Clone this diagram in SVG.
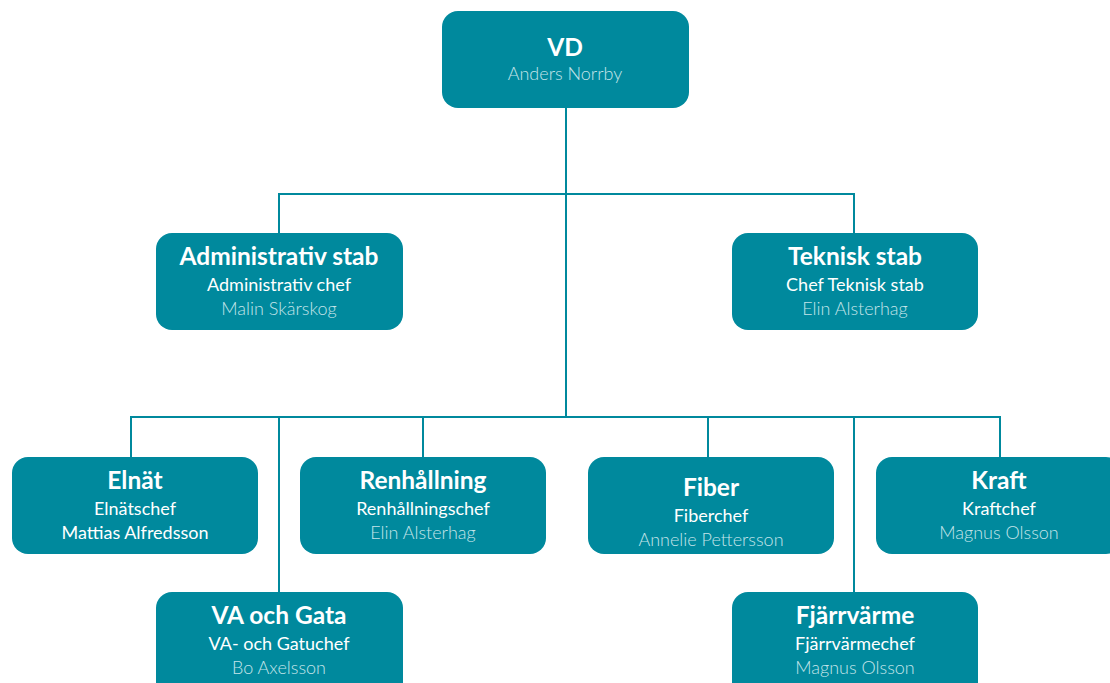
<svg xmlns="http://www.w3.org/2000/svg" width="1110" height="683" viewBox="0 0 1110 683">
<style>
.box{fill:#00899d}
.t{font-family:"Lato","Noto Sans",sans-serif;fill:#ffffff;text-anchor:middle}
.h{font-size:24.5px;font-weight:700}
.r{font-size:18px;font-weight:400}
.n{font-size:18px;font-weight:300;fill:#c4e4e9}
.c{fill:none;stroke:#00899d;stroke-width:2}
</style>
<rect width="1110" height="683" fill="#ffffff"/>
<g id="connectors">
<path class="c" d="M566 108V417M279 233V194H854V233M131 457V417H1000V457M279 417V592M423 417V457M708 417V457M854 417V592"/>
</g>
<g id="vd"><rect class="box" x="442" y="11" width="247" height="97" rx="16"/>
<text class="t h" x="565" y="56">VD</text><text class="t n" x="565" y="80">Anders Norrby</text></g>
<g id="admin"><rect class="box" x="156" y="233" width="247" height="97" rx="16"/>
<text class="t h" x="279" y="265">Administrativ stab</text><text class="t r" x="279" y="291">Administrativ chef</text><text class="t n" x="279" y="315">Malin Skärskog</text></g>
<g id="teknisk"><rect class="box" x="732" y="233" width="246" height="97" rx="16"/>
<text class="t h" x="855" y="265">Teknisk stab</text><text class="t r" x="855" y="291">Chef Teknisk stab</text><text class="t n" x="855" y="315">Elin Alsterhag</text></g>
<g id="elnat"><rect class="box" x="12" y="457" width="246" height="97" rx="16"/>
<text class="t h" x="135" y="489">Elnät</text><text class="t r" x="135" y="515">Elnätschef</text><text class="t r" x="135" y="539">Mattias Alfredsson</text></g>
<g id="renhallning"><rect class="box" x="300" y="457" width="246" height="97" rx="16"/>
<text class="t h" x="423" y="489">Renhållning</text><text class="t r" x="423" y="515">Renhållningschef</text><text class="t n" x="423" y="539">Elin Alsterhag</text></g>
<g id="fiber"><rect class="box" x="588" y="457" width="246" height="97" rx="16"/>
<text class="t h" x="711" y="496">Fiber</text><text class="t r" x="711" y="522">Fiberchef</text><text class="t n" x="711" y="546">Annelie Pettersson</text></g>
<g id="kraft"><rect class="box" x="876" y="457" width="246" height="97" rx="16"/>
<text class="t h" x="999" y="489">Kraft</text><text class="t r" x="999" y="515">Kraftchef</text><text class="t n" x="999" y="539">Magnus Olsson</text></g>
<g id="va"><rect class="box" x="156" y="592" width="247" height="110" rx="16"/>
<text class="t h" x="279" y="624">VA och Gata</text><text class="t r" x="279" y="650">VA- och Gatuchef</text><text class="t n" x="279" y="674">Bo Axelsson</text></g>
<g id="fjarrvarme"><rect class="box" x="732" y="592" width="246" height="110" rx="16"/>
<text class="t h" x="855" y="624">Fjärrvärme</text><text class="t r" x="855" y="650">Fjärrvärmechef</text><text class="t n" x="855" y="674">Magnus Olsson</text></g>
</svg>
